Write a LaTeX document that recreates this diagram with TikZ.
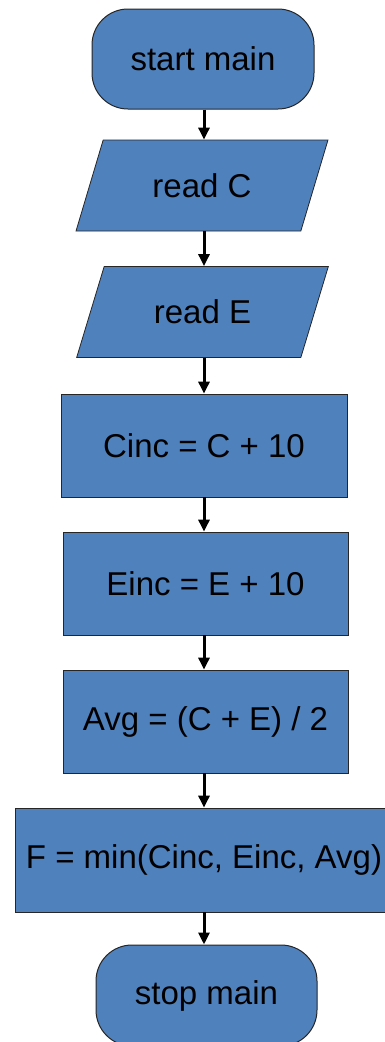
\documentclass[tikz,border=0pt]{standalone}
\usepackage{fontspec}
\setmainfont{Liberation Sans}
\usetikzlibrary{arrows.meta,shapes.geometric}
\definecolor{boxblue}{HTML}{4F81BD}
\begin{document}
\begin{tikzpicture}[x=1pt,y=1pt,
  every node/.style={font=\fontsize{33}{40}\selectfont, text=black, inner sep=0pt},
  terminal/.style={draw=black!85, line width=1pt, fill=boxblue, rectangle, rounded corners=36pt},
  iobox/.style={draw=black!85, line width=0.8pt, fill=boxblue, trapezium,
    trapezium left angle=60.7, trapezium right angle=119.3, trapezium stretches=true,
    minimum width=252pt, minimum height=91pt},
  procbox/.style={draw=black!85, line width=0.8pt, fill=boxblue, rectangle},
  flow/.style={line width=3pt, -{Triangle[length=12pt,width=11pt]}}]
\useasboundingbox (0,0) rectangle (385,-1042);

\node[terminal, minimum width=222pt, minimum height=100pt] (start) at (203,-59) {start main};
\node[iobox] (readc) at (202,-185.5) {read C};
\node[iobox] (reade) at (202.5,-312) {read E};
\node[procbox, minimum width=286pt, minimum height=103pt] (cinc) at (204,-445.5) {Cinc = C + 10};
\node[procbox, minimum width=285pt, minimum height=103pt] (einc) at (205.5,-583.5) {Einc = E + 10};
\node[procbox, minimum width=285pt, minimum height=103pt] (avg) at (205.5,-721.5) {Avg = (C + E) / 2};
\node[procbox, minimum width=378pt, minimum height=104pt] (fmin) at (204,-860) {F = min(Cinc, Einc, Avg)};
\node[terminal, minimum width=221pt, minimum height=101pt] (stop) at (206.5,-995.5) {stop main};

\draw[flow] (start.south -| 204,0) -- (readc.north -| 204,0);
\draw[flow] (readc.south -| 204,0) -- (reade.north -| 204,0);
\draw[flow] (reade.south -| 204,0) -- (cinc.north -| 204,0);
\draw[flow] (cinc.south -| 204,0) -- (einc.north -| 204,0);
\draw[flow] (einc.south -| 204,0) -- (avg.north -| 204,0);
\draw[flow] (avg.south -| 204,0) -- (fmin.north -| 204,0);
\draw[flow] (fmin.south -| 204,0) -- (stop.north -| 204,0);
\end{tikzpicture}
\end{document}
